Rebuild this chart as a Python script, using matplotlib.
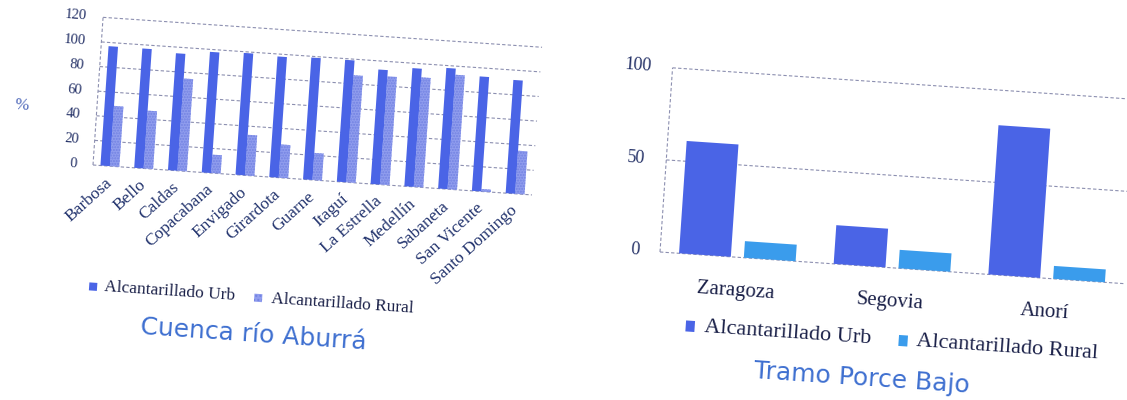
import matplotlib
matplotlib.use("Agg")
import matplotlib.pyplot as plt
from matplotlib.patches import Rectangle
from matplotlib.transforms import Affine2D, ScaledTranslation
import numpy as np

# Cobertura de alcantarillado (%) - Cuenca río Aburrá
municipios = ["Barbosa", "Bello", "Caldas", "Copacabana", "Envigado", "Girardota",
              "Guarne", "Itaguí", "La Estrella", "Medellín", "Sabaneta",
              "San Vicente", "Santo Domingo"]
aburra_urb = [97, 97, 95, 98, 99, 98, 99, 99, 93, 96, 98, 93, 92]
aburra_rural = [49, 47, 75, 15, 33, 27, 22, 87, 88, 89, 93, 2, 35]
aburra_ticks = [0, 20, 40, 60, 80, 100, 120]

# Cobertura de alcantarillado (%) - Tramo Porce Bajo
porce_mun = ["Zaragoza", "Segovia", "Anorí"]
porce_urb = [61, 21, 81]
porce_rural = [9, 10, 7]
porce_ticks = [0, 50, 100]

serie_urb = "Alcantarillado Urb"
serie_rural = "Alcantarillado Rural"

URB = "#4a64e6"
RURAL_A = "#909dee"
RURAL_A_DOTS = "#7282e2"
RURAL_P = "#3a9cec"
GRID = "#8c8fb0"
TICK = "#233066"
CAT = "#23346e"
LEG = "#1a2048"
TITLE = "#3e6fd0"
SERIF = "Liberation Serif"

ANG = -3.9  # page tilt
W, H = 1127, 400
fig = plt.figure(figsize=(W / 100, H / 100), dpi=100)
fig.patch.set_facecolor("white")


def make_axes(left, bottom, width, height):
    ax = fig.add_axes([left / W, bottom / H, width / W, height / H])
    ax.set_axis_off()
    rot = Affine2D().rotate_deg_around(left, bottom, ANG)
    return ax, rot


def shift(dx, dy):
    return ScaledTranslation(dx / 100, dy / 100, fig.dpi_scale_trans)


def draw_panel(ax, rot, cats, urb, rural, ticks, bw, off, rural_style,
               tick_pad, tick_fs):
    n = len(cats)
    ax.set_xlim(-0.5, n - 0.5)
    ax.set_ylim(0, ticks[-1])
    td = ax.transData + rot
    g = ax.hlines(ticks, -0.5, n - 0.5, transform=td, colors=GRID, lw=0.8,
                  linestyles=(0, (3, 2)), zorder=1)
    g.set_clip_on(False)
    v = ax.vlines(-0.5, 0, ticks[-1], transform=td, colors=GRID, lw=0.8,
                  linestyles=(0, (3, 2)), zorder=1)
    v.set_clip_on(False)
    x = np.arange(n)
    b1 = ax.bar(x - off, urb, bw, color=URB, linewidth=0, zorder=3)
    b2 = ax.bar(x + off, rural, bw, zorder=2, **rural_style)
    for p in list(b1.patches) + list(b2.patches):
        p.set_transform(td)
        p.set_clip_on(False)
    for t in ticks:
        ax.text(-0.5, t, str(t), transform=ax.transData + shift(-tick_pad, 0) + rot,
                ha="right", va="center", rotation=ANG, rotation_mode="anchor",
                fontsize=tick_fs, family=SERIF, color=TICK)
    return td


def legend_item(ax, rot, x, y, sw, sh, label, fs, tx, style):
    r = Rectangle((x, y - sh / 2), sw, sh, transform=ax.transAxes + rot,
                  clip_on=False, **style)
    ax.add_patch(r)
    ax.text(tx, y, label, transform=ax.transAxes + rot, ha="left", va="center",
            rotation=ANG, rotation_mode="anchor", fontsize=fs, family=SERIF,
            color=LEG)


# ---- Cuenca río Aburrá ----
axL, rotL = make_axes(93, 235, 440, 148)
rural_a_style = dict(facecolor=RURAL_A, edgecolor=RURAL_A_DOTS, hatch="......",
                     linewidth=0)
draw_panel(axL, rotL, municipios, aburra_urb, aburra_rural, aburra_ticks,
           0.28, 0.14, rural_a_style, 16, 10.5)
for i, name in enumerate(municipios):
    axL.text(i - 0.15, 0, name, transform=axL.transData + shift(0, -9) + rotL,
             ha="right", va="top", rotation=46 + ANG, rotation_mode="anchor",
             fontsize=12.5, family=SERIF, color=CAT)
axL.text(-0.17, 0.37, "%", transform=axL.transAxes + rotL, ha="center",
         va="center", rotation=ANG, rotation_mode="anchor", fontsize=12,
         family=SERIF, color="#4a64b8")
legend_item(axL, rotL, 0.010, -0.82, 8 / 440, 8 / 148, serie_urb, 12.5, 0.045,
            dict(facecolor=URB, linewidth=0))
legend_item(axL, rotL, 0.386, -0.82, 8 / 440, 8 / 148, serie_rural, 12.5, 0.425,
            dict(facecolor=RURAL_A, edgecolor=RURAL_A_DOTS, hatch="....",
                 linewidth=0))
axL.text(0.39, -1.07, "Cuenca río Aburrá", transform=axL.transAxes + rotL,
         ha="center", va="center", rotation=ANG, rotation_mode="anchor",
         fontsize=18, family="DejaVu Sans", color=TITLE)

# ---- Tramo Porce Bajo ----
axR, rotR = make_axes(660, 148, 465, 184.6)
draw_panel(axR, rotR, porce_mun, porce_urb, porce_rural, porce_ticks,
           0.335, 0.2095, dict(color=RURAL_P, linewidth=0), 21, 13)
for i, name in enumerate(porce_mun):
    axR.text(i, 0, name, transform=axR.transData + shift(0, -34) + rotR,
             ha="center", va="center", rotation=ANG, rotation_mode="anchor",
             fontsize=15, family=SERIF, color=LEG)
legend_item(axR, rotR, 0.066, -0.39, 9 / 465, 11 / 184.6, serie_urb, 16, 0.105,
            dict(facecolor=URB, linewidth=0))
legend_item(axR, rotR, 0.525, -0.39, 9 / 465, 11 / 184.6, serie_rural, 16, 0.562,
            dict(facecolor=RURAL_P, linewidth=0))
axR.text(0.452, -0.607, "Tramo Porce Bajo", transform=axR.transAxes + rotR,
         ha="center", va="center", rotation=ANG, rotation_mode="anchor",
         fontsize=18, family="DejaVu Sans", color=TITLE)

fig.savefig("out.png", dpi=100, facecolor="white")
